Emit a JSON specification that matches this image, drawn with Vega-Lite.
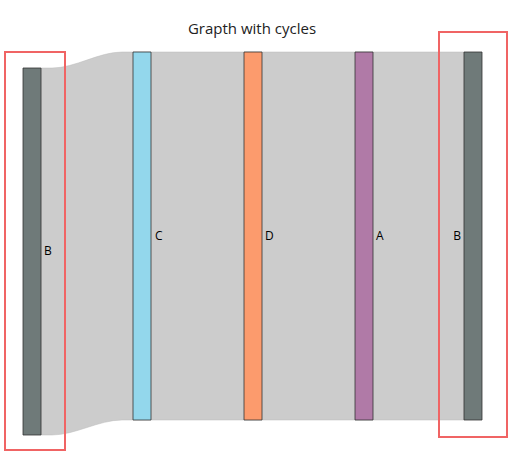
{
  "$schema": "https://vega.github.io/schema/vega-lite/v6.json",
  "width": 511,
  "height": 456,
  "autosize": "none",
  "padding": 0,
  "background": "#ffffff",
  "config": {"view": {"stroke": null}, "font": "Open Sans"},
  "encoding": {
    "x": {"type": "quantitative", "scale": {"domain": [0, 511], "nice": false, "zero": false}, "axis": null},
    "y": {"type": "quantitative", "scale": {"domain": [0, 456], "nice": false, "zero": false, "reverse": true}, "axis": null}
  },
  "layer": [
    {
      "data": {"values": [
        {"x": 41, "top": 68, "bottom": 435},
        {"x": 52, "top": 68, "bottom": 435},
        {"x": 122, "top": 52, "bottom": 420},
        {"x": 133, "top": 52, "bottom": 420},
        {"x": 464, "top": 52, "bottom": 420}
      ]},
      "mark": {"type": "area", "interpolate": "monotone", "color": "#cccccc", "stroke": "#bbbbbb", "strokeWidth": 0.5},
      "encoding": {
        "x": {"field": "x"},
        "y": {"field": "top"},
        "y2": {"field": "bottom"}
      }
    },
    {
      "data": {"values": [
        {"node": "B", "x0": 23, "x1": 41, "y0": 68, "y1": 435, "color": "#6f7a79"},
        {"node": "C", "x0": 133, "x1": 151, "y0": 52, "y1": 420, "color": "#93d7ec"},
        {"node": "D", "x0": 244, "x1": 262, "y0": 52, "y1": 420, "color": "#fc9b6d"},
        {"node": "A", "x0": 355, "x1": 373, "y0": 52, "y1": 420, "color": "#b07aa7"},
        {"node": "B", "x0": 464, "x1": 482, "y0": 52, "y1": 420, "color": "#6f7a79"}
      ]},
      "mark": {"type": "rect", "stroke": "#333333", "strokeWidth": 0.8},
      "encoding": {
        "x": {"field": "x0"},
        "x2": {"field": "x1"},
        "y": {"field": "y0"},
        "y2": {"field": "y1"},
        "color": {"field": "color", "type": "nominal", "scale": null}
      }
    },
    {
      "data": {"values": [
        {"x0": 5, "x1": 65, "y0": 52, "y1": 450},
        {"x0": 439, "x1": 507, "y0": 32, "y1": 437}
      ]},
      "mark": {"type": "rect", "fill": null, "stroke": "#f06464", "strokeWidth": 2},
      "encoding": {
        "x": {"field": "x0"},
        "x2": {"field": "x1"},
        "y": {"field": "y0"},
        "y2": {"field": "y1"}
      }
    },
    {
      "data": {"values": [
        {"label": "B", "x": 44, "y": 251, "align": "left"},
        {"label": "C", "x": 155, "y": 236, "align": "left"},
        {"label": "D", "x": 265, "y": 236, "align": "left"},
        {"label": "A", "x": 376, "y": 236, "align": "left"},
        {"label": "B", "x": 461, "y": 236, "align": "right"}
      ]},
      "mark": {"type": "text", "fontSize": 12, "color": "#000000", "baseline": "middle", "align": {"expr": "datum.align"}},
      "encoding": {
        "x": {"field": "x"},
        "y": {"field": "y"},
        "text": {"field": "label"}
      }
    },
    {
      "data": {"values": [{"label": "Grapth with cycles", "x": 252, "y": 29}]},
      "mark": {"type": "text", "fontSize": 15, "color": "#222222", "baseline": "middle", "align": "center"},
      "encoding": {
        "x": {"field": "x"},
        "y": {"field": "y"},
        "text": {"field": "label"}
      }
    }
  ]
}
